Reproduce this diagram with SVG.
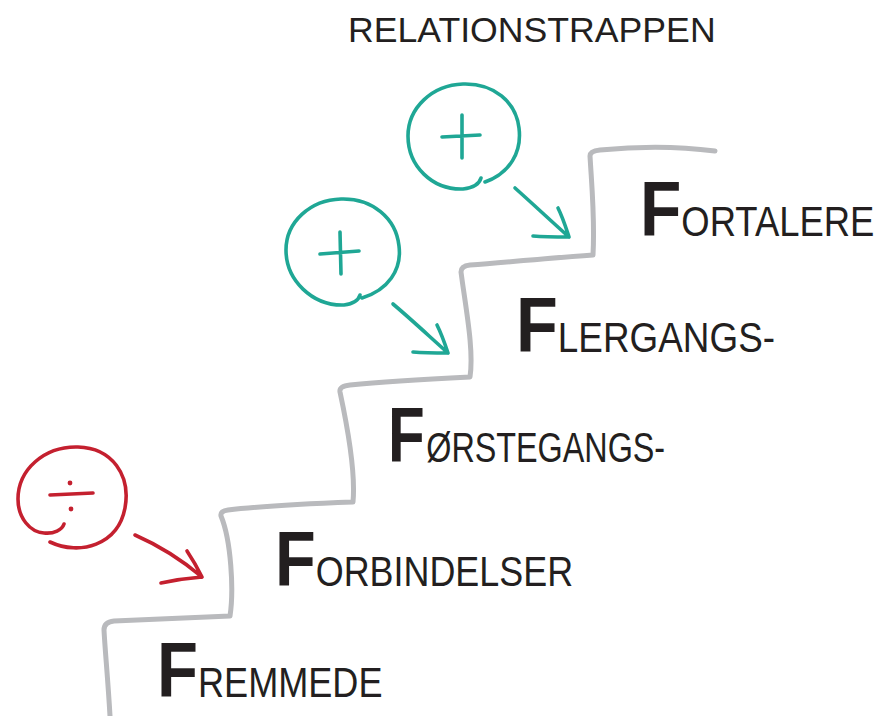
<svg xmlns="http://www.w3.org/2000/svg" width="881" height="716" viewBox="0 0 881 716">
  <style>
    .stairs { fill: none; stroke: #b9babd; stroke-width: 5; stroke-linecap: round; stroke-linejoin: round; }
    .teal { fill: none; stroke: #1fa795; stroke-width: 3.6; stroke-linecap: round; stroke-linejoin: round; }
    .red { fill: none; stroke: #c4202f; stroke-width: 3.6; stroke-linecap: round; stroke-linejoin: round; }
    .label { font-family: "Liberation Sans", Arial, sans-serif; fill: #231f20; }
    .big { font-size: 78px; font-weight: bold; }
    .small { font-size: 42px; }
    .title { font-family: "Liberation Sans", Arial, sans-serif; font-size: 36px; fill: #231f20; }
  </style>

  <rect width="881" height="716" fill="#ffffff"/>

  <!-- title -->
  <g id="title">
    <text class="title" transform="translate(348 42) scale(0.99 1)">RELATIONSTRAPPEN</text>
  </g>

  <!-- the staircase -->
  <g id="staircase">
    <path class="stairs" d="M110,716 C108,680 105,650 104,630 Q104,622 114,621 L230,616
      C234,590 231,540 221,516 Q220,511 228,510 C260,506 300,504 353,502
      C356,470 346,420 340,392 Q339,386 350,385 C390,381 430,379 470,377
      C474,350 466,310 461,272 Q461,266 470,265 C510,262 550,258 593,255
      C595,220 592,190 590,156 Q590,151 600,150 C630,147 670,145 715,151"/>
  </g>

  <!-- steps: a tall initial F followed by small capitals, squeezed to a narrow hand-lettered width -->
  <g id="step-fremmede">
    <text class="label" transform="translate(157 697) scale(0.86 1)"><tspan class="big">F</tspan><tspan class="small">REMMEDE</tspan></text>
  </g>
  <g id="step-forbindelser">
    <text class="label" transform="translate(275 586) scale(0.855 1)"><tspan class="big">F</tspan><tspan class="small">ORBINDELSER</tspan></text>
  </g>
  <g id="step-forstegangs">
    <text class="label" transform="translate(388 462) scale(0.77 1)"><tspan class="big">F</tspan><tspan class="small" dx="2">ØRSTEGANGS-</tspan></text>
  </g>
  <g id="step-flergangs">
    <text class="label" transform="translate(516 352) scale(0.878 1)"><tspan class="big">F</tspan><tspan class="small">LERGANGS-</tspan></text>
  </g>
  <g id="step-fortalere">
    <text class="label" transform="translate(640 236) scale(0.868 1)"><tspan class="big">F</tspan><tspan class="small">ORTALERE</tspan></text>
  </g>

  <!-- sign badges -->
  <g id="badge-minus">
    <path class="red" d="M50,542 C80,556 118,545 125,508 C131,475 112,448 78,447 C44,446 18,470 18,499 C18,518 30,532 44,533 C54,534 62,530 64,524"/>
    <path class="red" d="M50,495 L93,493"/>
    <circle cx="70" cy="483" r="2.4" fill="#c4202f"/>
    <circle cx="71" cy="509" r="2.4" fill="#c4202f"/>
  </g>
  <g id="badge-plus-lower">
    <path class="teal" d="M362,298 C388,290 402,270 399,246 C396,218 372,198 341,199 C310,200 286,222 286,250 C286,280 312,306 344,305 C352,304 358,302 360,295"/>
    <path class="teal" d="M320,254 L359,251 M340,232 L341,274"/>
  </g>
  <g id="badge-plus-upper">
    <path class="teal" d="M485,182 C510,173 522,152 519,128 C516,102 494,83 463,84 C432,85 408,108 408,136 C408,166 432,190 463,189 C472,188 479,185 481,178"/>
    <path class="teal" d="M442,137 L480,135 M462,115 L462,158"/>
  </g>

  <!-- arrows -->
  <g id="connectors">
    <path class="red" d="M135,535 C160,546 182,560 202,577 M187,551 C193,560 198,569 202,577 M161,583 C175,580 189,578 202,577"/>
    <path class="teal" d="M393,304 C412,320 430,337 448,353 M437,325 C442,335 445,344 448,353 M413,352 C425,353 437,353 448,353"/>
    <path class="teal" d="M515,188 C533,204 551,221 569,237 M558,208 C563,218 566,228 569,237 M533,236 C545,237 557,237 569,237"/>
  </g>
</svg>
